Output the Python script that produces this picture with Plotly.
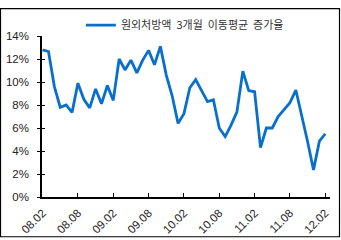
import plotly.graph_objects as go

months = ["08.02","08.03","08.04","08.05","08.06","08.07","08.08","08.09","08.10","08.11","08.12",
          "09.01","09.02","09.03","09.04","09.05","09.06","09.07","09.08","09.09","09.10","09.11","09.12",
          "10.01","10.02","10.03","10.04","10.05","10.06","10.07","10.08","10.09","10.10","10.11","10.12",
          "11.01","11.02","11.03","11.04","11.05","11.06","11.07","11.08","11.09","11.10","11.11","11.12",
          "12.01","12.02"]
growth = [12.8, 12.65, 9.6, 7.8, 8.0, 7.35, 9.9, 8.5, 7.75, 9.4, 8.1, 9.7, 8.4,
          12.0, 11.05, 11.9, 10.8, 11.9, 12.75, 11.5, 13.1, 10.6, 8.8, 6.4, 7.25,
          9.5, 10.2, 9.2, 8.3, 8.45, 6.0, 5.25, 6.25, 7.4, 10.95, 9.25, 9.15,
          4.3, 6.0, 6.0, 7.0, 7.6, 8.2, 9.3, 7.1, 4.8, 2.35, 4.85, 5.5]
tick_labels = ["08.02","08.08","09.02","09.08","10.02","10.08","11.02","11.08","12.02"]
y_ticks = [0, 2, 4, 6, 8, 10, 12, 14]
series_name = "원외처방액  3개월  이동평균  증가율"

W, H = 341, 240
ml, mr, mt, mb = 42, 11, 29, 43
pw, ph = W - ml - mr, H - mt - mb

idx = list(range(len(months)))
tick_idx = [months.index(t) for t in tick_labels]

fig = go.Figure()
fig.add_trace(go.Scatter(x=idx, y=growth, mode="lines", name=series_name,
                         line=dict(color="#0870CC", width=2.8)))
# invisible trace on overlay axis for inside y ticks
fig.add_trace(go.Scatter(x=idx, y=growth, mode="lines", yaxis="y2", showlegend=False,
                         line=dict(width=0), hoverinfo="skip", opacity=0))

fig.update_layout(
    width=W, height=H,
    margin=dict(l=ml, r=mr, t=mt, b=mb),
    paper_bgcolor="white", plot_bgcolor="white",
    font=dict(family="Liberation Sans, Arial", size=11, color="#222"),
    showlegend=True,
    legend=dict(orientation="h", x=0.135, xanchor="left", y=1.068, yanchor="middle",
                font=dict(family="Noto Sans CJK KR", size=11, color="#333"),
                bgcolor="rgba(0,0,0,0)", itemwidth=30),
    xaxis=dict(range=[-0.1, 48.8], tickmode="array", tickvals=tick_idx, ticktext=tick_labels,
               tickangle=-45, ticks="inside", ticklen=4, tickcolor="black", tickwidth=1,
               showline=True, linecolor="black", linewidth=1.5, showgrid=False, zeroline=False,
               tickfont=dict(size=11.5, color="#222"), ticklabelstandoff=3, automargin=False),
    yaxis=dict(range=[0, 14], tickmode="array", tickvals=y_ticks,
               ticktext=[f"{v}%" for v in y_ticks],
               ticks="outside", ticklen=3, tickcolor="black", tickwidth=1,
               showline=True, linecolor="black", linewidth=1.5, showgrid=False, zeroline=False,
               tickfont=dict(size=11.5, color="#222"), ticklabelstandoff=6, automargin=False),
    yaxis2=dict(range=[0, 14], overlaying="y", side="left", tickmode="array", tickvals=y_ticks,
                showticklabels=False, ticks="inside", ticklen=3, tickcolor="black", tickwidth=1,
                showline=False, showgrid=False, zeroline=False, automargin=False),
)

# outer frame around the whole image
fig.add_shape(type="rect", xref="paper", yref="paper",
              x0=(0.5 - ml) / pw, x1=(W - 1.5 - ml) / pw,
              y0=-(mb - 1.5) / ph, y1=1 + (mt - 0.5) / ph,
              line=dict(color="black", width=1.2), fillcolor="rgba(0,0,0,0)", layer="below")

fig.write_html("out.html")
